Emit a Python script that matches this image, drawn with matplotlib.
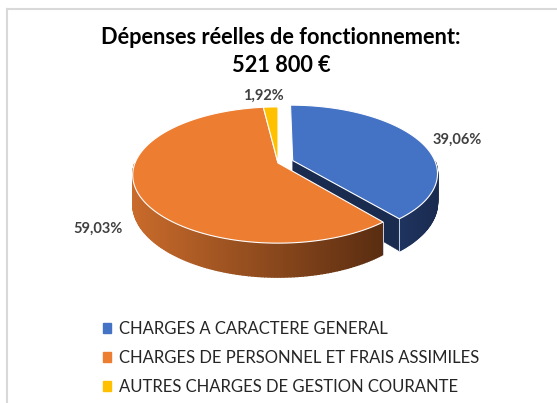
"""
3D style pie chart of the operating expenses.
"""

import numpy as np
import matplotlib
matplotlib.use("Agg")
import matplotlib.pyplot as plt
from matplotlib import colors as mpl_colors
from matplotlib.patches import Polygon, Patch

# Data
categories = ["CHARGES A CARACTERE GENERAL",
              "CHARGES DE PERSONNEL ET FRAIS ASSIMILES",
              "AUTRES CHARGES DE GESTION COURANTE"]
shares = [39.06, 59.03, 1.92]
share_labels = ["39,06%", "59,03%", "1,92%"]
title_lines = ["Dépenses réelles de fonctionnement:", "521 800 €"]

top_colors = ["#4472C4", "#ED7D31", "#FFC000"]
side_colors = [("#1F3460", "#1A2B50"), ("#C96B2B", "#5A2D11"), ("#B38600", "#7F6000")]
explode = [0.11, 0.0, 0.0]

plt.rcParams['font.family'] = ['Lato', 'DejaVu Sans']

# pseudo 3D projection (pixel units)
CX, CY = 278, 163
RX, RY = 143, 66
PERSP = 0.1765
DEPTH = 28


def project(X, Z, h=0.0):
    """Project a point of the pie plane (X right, Z back) to the picture"""
    k = 1.0 / (1.0 + PERSP * Z)
    return CX + RX * X * k, CY - RY * Z * k + h * k


def rim_point(theta, offset, r=1.0, h=0.0):
    t = np.radians(theta)
    return project(offset[0] + r * np.cos(t), offset[1] + r * np.sin(t), h)


def radial_face(ax, a, offset, color):
    pts = [project(offset[0], offset[1]), rim_point(a, offset),
           rim_point(a, offset, h=DEPTH), project(offset[0], offset[1], DEPTH)]
    ax.add_patch(Polygon(pts, closed=True, facecolor=color, edgecolor=color, lw=0.3))


fig = plt.figure(figsize=(5.57, 4.03), dpi=100)
ax = fig.add_axes([0, 0, 1, 1])
ax.set_xlim(0, 557)
ax.set_ylim(403, 0)
ax.axis("off")

# chart frame
ax.plot([7, 7], [403, 9], color="#d9d9d9", lw=1.5)
ax.plot([7, 557], [9, 9], color="#d9d9d9", lw=1.5)

# slice angles, clockwise from 12 o'clock
fracs = np.array(shares) / np.sum(shares)
angles = []
start = 90.0
for f in fracs:
    angles.append((start, start - f * 360))
    start = start - f * 360

offsets = []
for (a0, a1), e in zip(angles, explode):
    mid = np.radians((a0 + a1) / 2)
    offsets.append((e * np.cos(mid), e * np.sin(mid)))

# sides first (back slice first)
for i in [0, 1, 2]:
    a0, a1 = angles[i]
    off = offsets[i]
    c_light, c_dark = side_colors[i]
    # radial cut faces turned to the viewer
    if np.sin(np.radians(a1 - 90)) < 0:
        radial_face(ax, a1, off, c_dark)
    if np.sin(np.radians(a0 + 90)) < 0:
        radial_face(ax, a0, off, c_dark)
    # outer rim, front half only
    th = np.linspace(a1, a0, 200)
    vis = [t for t in th if np.sin(np.radians(t)) <= 0]
    if len(vis) < 2:
        continue
    xs = [rim_point(t, off)[0] for t in vis]
    x_min, x_max = min(xs), max(xs)
    for t0, t1 in zip(vis[:-1], vis[1:]):
        pts = [rim_point(t0, off), rim_point(t1, off),
               rim_point(t1, off, h=DEPTH), rim_point(t0, off, h=DEPTH)]
        frac = (rim_point((t0 + t1) / 2, off)[0] - x_min) / max(x_max - x_min, 1)
        col = np.array(mpl_colors.to_rgb(c_light)) * (1 - frac) + np.array(mpl_colors.to_rgb(c_dark)) * frac
        ax.add_patch(Polygon(pts, closed=True, facecolor=col, edgecolor=col, lw=1.0))
    # light edge at the rim ends
    for t in [vis[0], vis[-1]]:
        if abs(t - a0) < 1e-6 or abs(t - a1) < 1e-6:
            p0, p1 = rim_point(t, off), rim_point(t, off, h=DEPTH)
            ax.plot([p0[0], p1[0]], [p0[1], p1[1]], color="#c9d3e6", lw=0.7)

# top faces
for i in range(len(shares)):
    a0, a1 = angles[i]
    off = offsets[i]
    pts = [project(off[0], off[1])] + [rim_point(t, off) for t in np.linspace(a0, a1, 150)]
    ax.add_patch(Polygon(pts, closed=True, facecolor=top_colors[i], edgecolor="white", lw=0.8))

# data labels
label_shift = [(4, 6), (8, -2), (-5, 2)]
for i, lab in enumerate(share_labels):
    a0, a1 = angles[i]
    mid = np.radians((a0 + a1) / 2)
    off = offsets[i]
    X = off[0] + 1.3 * np.cos(mid)
    Z = off[1] + 1.3 * np.sin(mid)
    x, y = project(X, Z, DEPTH if Z < 0 else 0)
    ax.text(x + label_shift[i][0], y + label_shift[i][1], lab, ha="center", va="center",
            fontsize=10.5, fontweight="bold", color="#404040")

# title
ax.text(281, 37, title_lines[0], ha="center", va="center", fontsize=15.7, fontweight="bold", color="black")
ax.text(281, 66, title_lines[1], ha="center", va="center", fontsize=15.7, fontweight="bold", color="black")

handles = [Patch(facecolor=c, edgecolor=c) for c in top_colors]
fig.legend(handles, categories, loc="upper left", bbox_to_anchor=(88 / 557, 1 - 306 / 403),
           frameon=False, fontsize=12, handlelength=0.5, handleheight=0.5,
           handletextpad=0.45, labelspacing=0.78, labelcolor="#262626")

plt.savefig("out.png", dpi=100)
plt.close()
